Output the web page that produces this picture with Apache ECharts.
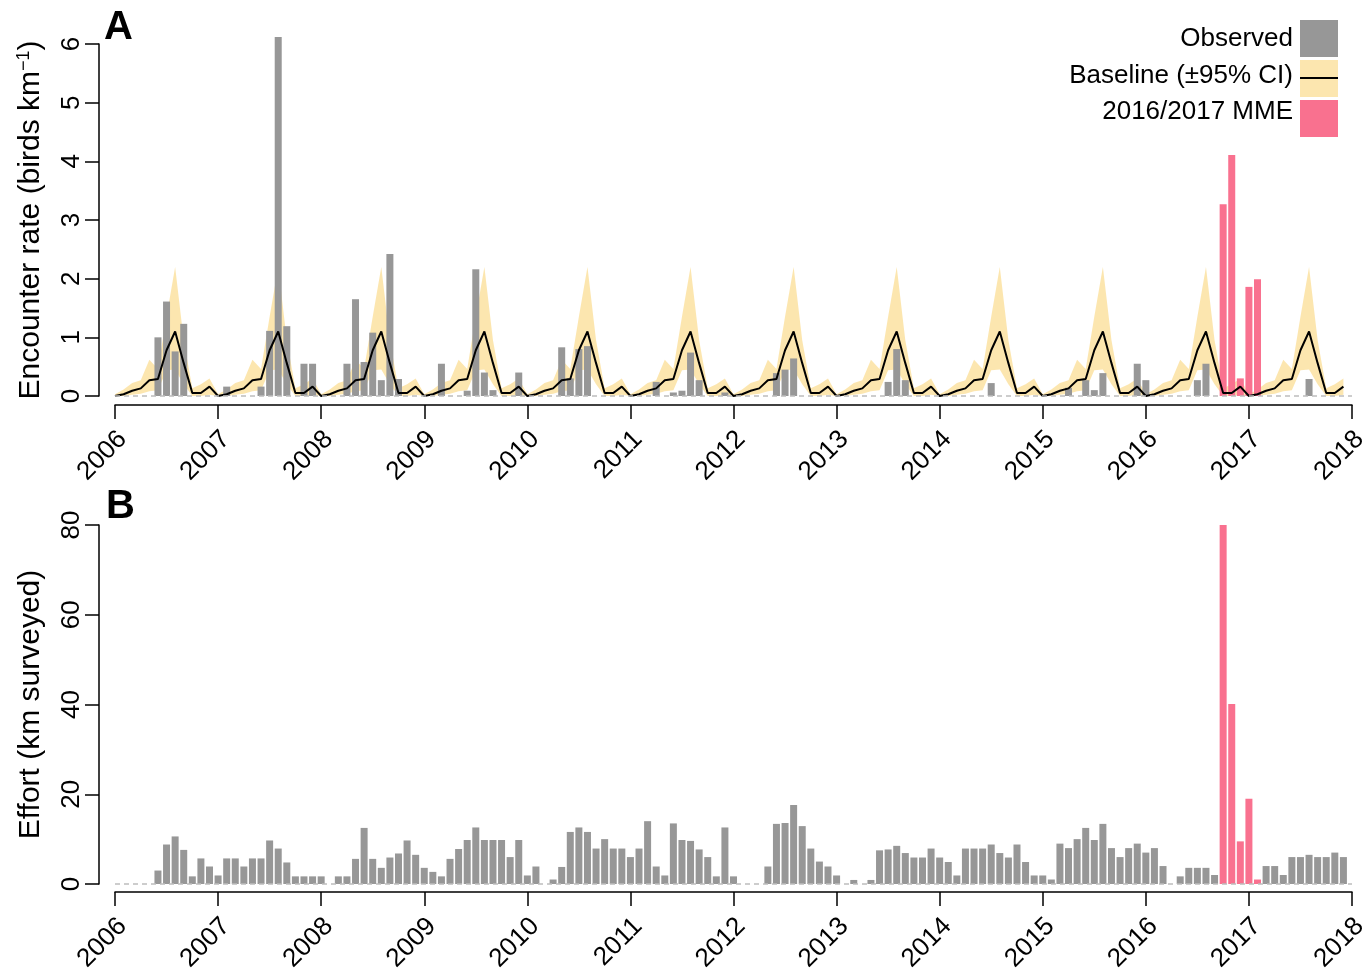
<!DOCTYPE html>
<html><head><meta charset="utf-8">
<script src="https://cdn.jsdelivr.net/npm/echarts@6/dist/echarts.min.js"></script>
<style>html,body{margin:0;padding:0;background:#fff}#chart{width:1372px;height:970px}</style>
</head><body><div id="chart"></div>
<script>
// ---- tick labels (one per January, 2006..2018) ----
const yearLabels = ['2006','2007','2008','2009','2010','2011','2012','2013','2014','2015','2016','2017','2018'];

// ---- months flagged as the 2016/2017 mass-mortality event ----
const mmeMonths = ['2016-10','2016-11','2016-12','2017-01','2017-02'];

// ---- Panel A: observed encounter rate (birds per km), Jan..Dec per year ----
const encounterRate = [
  /*2006*/ 0,0,0,0,0,1.00,1.61,0.76,1.23,0,0,0,
  /*2007*/ 0,0.16,0,0,0,0.16,1.11,6.12,1.19,0,0.55,0.55,
  /*2008*/ 0,0,0,0.55,1.65,0.58,1.08,0.27,2.42,0.29,0,0,
  /*2009*/ 0,0,0.55,0,0,0.09,2.16,0.40,0.10,0,0,0.40,
  /*2010*/ 0,0,0,0,0.83,0.30,0.80,0.85,0,0,0,0,
  /*2011*/ 0,0,0,0.24,0,0.06,0.09,0.74,0.27,0,0,0.06,
  /*2012*/ 0,0,0,0,0,0.39,0.45,0.64,0,0,0,0,
  /*2013*/ 0,0,0,0,0,0,0.24,0.80,0.27,0,0,0,
  /*2014*/ 0,0,0,0,0,0,0.22,0,0,0,0,0,
  /*2015*/ 0,0,0,0.14,0,0.27,0.10,0.39,0,0,0,0.55,
  /*2016*/ 0.27,0,0,0,0,0,0.27,0.55,0,3.27,4.11,0.30,
  /*2017*/ 1.86,1.99,0,0,0,0,0,0.29,0,0,0,0
];

// ---- Panel A: baseline model fit and 95% CI ----
const baselineFit = [
  /*2006*/ 0,0.03,0.09,0.13,0.27,0.29,0.78,1.10,0.56,0.05,0.05,0.16,
  /*2007*/ 0,0.03,0.09,0.13,0.27,0.29,0.78,1.10,0.56,0.05,0.05,0.16,
  /*2008*/ 0,0.03,0.09,0.13,0.27,0.29,0.78,1.10,0.56,0.05,0.05,0.16,
  /*2009*/ 0,0.03,0.09,0.13,0.27,0.29,0.78,1.10,0.56,0.05,0.05,0.16,
  /*2010*/ 0,0.03,0.09,0.13,0.27,0.29,0.78,1.10,0.56,0.05,0.05,0.16,
  /*2011*/ 0,0.03,0.09,0.13,0.27,0.29,0.78,1.10,0.56,0.05,0.05,0.16,
  /*2012*/ 0,0.03,0.09,0.13,0.27,0.29,0.78,1.10,0.56,0.05,0.05,0.16,
  /*2013*/ 0,0.03,0.09,0.13,0.27,0.29,0.78,1.10,0.56,0.05,0.05,0.16,
  /*2014*/ 0,0.03,0.09,0.13,0.27,0.29,0.78,1.10,0.56,0.05,0.05,0.16,
  /*2015*/ 0,0.03,0.09,0.13,0.27,0.29,0.78,1.10,0.56,0.05,0.05,0.16,
  /*2016*/ 0,0.03,0.09,0.13,0.27,0.29,0.78,1.10,0.56,0.05,0.05,0.16,
  /*2017*/ 0,0.03,0.09,0.13,0.27,0.29,0.78,1.10,0.56,0.05,0.05,0.16
];
const ciLower = [
  /*2006*/ 0,0,0.02,0.04,0.08,0.10,0.44,0.45,0.20,0,0,0.02,
  /*2007*/ 0,0,0.02,0.04,0.08,0.10,0.44,0.45,0.20,0,0,0.02,
  /*2008*/ 0,0,0.02,0.04,0.08,0.10,0.44,0.45,0.20,0,0,0.02,
  /*2009*/ 0,0,0.02,0.04,0.08,0.10,0.44,0.45,0.20,0,0,0.02,
  /*2010*/ 0,0,0.02,0.04,0.08,0.10,0.44,0.45,0.20,0,0,0.02,
  /*2011*/ 0,0,0.02,0.04,0.08,0.10,0.44,0.45,0.20,0,0,0.02,
  /*2012*/ 0,0,0.02,0.04,0.08,0.10,0.44,0.45,0.20,0,0,0.02,
  /*2013*/ 0,0,0.02,0.04,0.08,0.10,0.44,0.45,0.20,0,0,0.02,
  /*2014*/ 0,0,0.02,0.04,0.08,0.10,0.44,0.45,0.20,0,0,0.02,
  /*2015*/ 0,0,0.02,0.04,0.08,0.10,0.44,0.45,0.20,0,0,0.02,
  /*2016*/ 0,0,0.02,0.04,0.08,0.10,0.44,0.45,0.20,0,0,0.02,
  /*2017*/ 0,0,0.02,0.04,0.08,0.10,0.44,0.45,0.20,0,0,0.02
];
const ciUpper = [
  /*2006*/ 0.03,0.11,0.22,0.27,0.62,0.46,1.35,2.20,0.95,0.13,0.20,0.30,
  /*2007*/ 0.03,0.11,0.22,0.27,0.62,0.46,1.35,2.20,0.95,0.13,0.20,0.30,
  /*2008*/ 0.03,0.11,0.22,0.27,0.62,0.46,1.35,2.20,0.95,0.13,0.20,0.30,
  /*2009*/ 0.03,0.11,0.22,0.27,0.62,0.46,1.35,2.20,0.95,0.13,0.20,0.30,
  /*2010*/ 0.03,0.11,0.22,0.27,0.62,0.46,1.35,2.20,0.95,0.13,0.20,0.30,
  /*2011*/ 0.03,0.11,0.22,0.27,0.62,0.46,1.35,2.20,0.95,0.13,0.20,0.30,
  /*2012*/ 0.03,0.11,0.22,0.27,0.62,0.46,1.35,2.20,0.95,0.13,0.20,0.30,
  /*2013*/ 0.03,0.11,0.22,0.27,0.62,0.46,1.35,2.20,0.95,0.13,0.20,0.30,
  /*2014*/ 0.03,0.11,0.22,0.27,0.62,0.46,1.35,2.20,0.95,0.13,0.20,0.30,
  /*2015*/ 0.03,0.11,0.22,0.27,0.62,0.46,1.35,2.20,0.95,0.13,0.20,0.30,
  /*2016*/ 0.03,0.11,0.22,0.27,0.62,0.46,1.35,2.20,0.95,0.13,0.20,0.30,
  /*2017*/ 0.03,0.11,0.22,0.27,0.62,0.46,1.35,2.20,0.95,0.13,0.20,0.30
];

// ---- Panel B: survey effort (km surveyed), Jan..Dec per year ----
const effortKm = [
  /*2006*/ 0,0,0,0,0,3.0,8.8,10.6,7.6,1.7,5.7,3.9,
  /*2007*/ 1.9,5.7,5.7,3.9,5.7,5.7,9.7,7.9,4.8,1.7,1.7,1.7,
  /*2008*/ 1.7,0,1.7,1.7,5.6,12.5,5.6,3.6,5.9,6.8,9.7,6.5,
  /*2009*/ 3.6,2.7,1.7,5.6,7.8,9.8,12.6,9.8,9.8,9.8,6.0,9.8,
  /*2010*/ 1.9,3.9,0,1.0,3.8,11.6,12.6,11.6,7.9,10.0,7.9,7.9,
  /*2011*/ 6.0,7.9,14.0,3.9,1.9,13.5,9.8,9.6,7.7,6.0,1.7,12.6,
  /*2012*/ 1.7,0,0,0,3.9,13.4,13.6,17.6,12.9,7.9,5.0,3.9,
  /*2013*/ 1.9,0,0.9,0,0.9,7.5,7.7,8.5,6.9,5.9,5.9,7.9,
  /*2014*/ 5.9,4.9,1.9,7.9,7.9,7.9,8.8,6.9,5.9,8.8,4.9,1.9,
  /*2015*/ 1.9,1.0,9.0,8.0,10.0,12.5,9.8,13.4,8.0,6.0,8.0,9.0,
  /*2016*/ 7.0,8.0,4.0,0,1.7,3.6,3.6,3.6,2.0,80.2,40.1,9.5,
  /*2017*/ 19.0,1.0,4.0,4.0,2.0,6.0,6.0,6.5,6.0,6.0,7.0,6.0
];

// ---------------- build ----------------
const FONT = '"Liberation Sans", Arial, Helvetica, sans-serif';
const GREY = '#979797', PINK = '#F9718F', BAND = 'rgba(250,206,95,0.5)';
const monthKey = i => (2006 + Math.floor(i / 12)) + '-' + String(i % 12 + 1).padStart(2, '0');
const isMME = i => mmeMonths.includes(monthKey(i));
const split = (arr, pink) => arr.map((v, i) => [i, (isMME(i) === pink) ? v : null]);
const pts = arr => arr.map((v, i) => [i, v]);

const zeroLine = {
  silent: true, symbol: 'none', label: {show: false},
  lineStyle: {color: '#bdbdbd', type: [5, 4], width: 1.5},
  data: [{yAxis: 0}]
};

function xAx(gi, off) {
  return {
    type: 'value', gridIndex: gi, min: 0, max: 144, interval: 12, offset: off,
    axisLine: {show: true, onZero: false, lineStyle: {color: '#000', width: 1.5}},
    axisTick: {show: true, length: 14, lineStyle: {color: '#000', width: 1.5}},
    axisLabel: {rotate: 45, margin: 38, fontSize: 26, color: '#000', fontFamily: FONT,
      padding: [0, -11, 0, 0],
      formatter: v => yearLabels[Math.round(v / 12)] || ''},
    splitLine: {show: false}
  };
}
function yAx(gi, max, intv, name) {
  return {
    type: 'value', gridIndex: gi, min: 0, max: max, interval: intv, offset: 16,
    axisLine: {show: true, onZero: false, lineStyle: {color: '#000', width: 1.5}},
    axisTick: {show: true, length: 14, lineStyle: {color: '#000', width: 1.5}},
    axisLabel: {rotate: 90, margin: 14, fontSize: 26, color: '#000', fontFamily: FONT},
    splitLine: {show: false},
    name: name, nameLocation: 'middle', nameRotate: 90, nameGap: 52,
    nameTextStyle: {fontSize: 30, color: '#000', fontFamily: FONT, lineHeight: 32,
      rich: {sup: {fontSize: 18, color: '#000', fontFamily: FONT, verticalAlign: 'top', lineHeight: 32}}}
  };
}

const chart = echarts.init(document.getElementById('chart'), null, {renderer: 'canvas'});
chart.setOption({
  animation: false,
  backgroundColor: '#fff',
  grid: [
    {left: 115, right: 20, top: 44, height: 352, containLabel: false, outerBoundsMode: 'none'},
    {left: 115, right: 20, top: 525, height: 359, containLabel: false, outerBoundsMode: 'none'}
  ],
  xAxis: [xAx(0, 9), xAx(1, 8)],
  yAxis: [yAx(0, 6, 1, 'Encounter rate (birds km{sup|−1})'), yAx(1, 80, 20, 'Effort (km surveyed)')],
  series: [
    {type: 'bar', xAxisIndex: 0, yAxisIndex: 0, data: split(encounterRate, false), barWidth: 7, barGap: '-100%',
      itemStyle: {color: GREY}, clip: false, markLine: zeroLine},
    {type: 'bar', xAxisIndex: 0, yAxisIndex: 0, data: split(encounterRate, true), barWidth: 7, barGap: '-100%',
      itemStyle: {color: PINK}, clip: false},
    {type: 'custom', xAxisIndex: 0, yAxisIndex: 0,
      data: ciUpper.map((u, i) => [i, ciLower[i], u]),
      encode: {x: 0, y: [1, 2]},
      renderItem: function (params, api) {
        if (params.dataIndex !== 0) return null;
        const up = [], lo = [];
        for (let k = 0; k < ciUpper.length; k++) {
          up.push(api.coord([k, ciUpper[k]]));
          lo.push(api.coord([k, ciLower[k]]));
        }
        return {type: 'polygon', shape: {points: up.concat(lo.reverse())}, style: {fill: BAND}};
      }},
    {type: 'line', xAxisIndex: 0, yAxisIndex: 0, data: pts(baselineFit), symbol: 'none',
      lineStyle: {color: '#000', width: 2}},
    {type: 'bar', xAxisIndex: 1, yAxisIndex: 1, data: split(effortKm, false), barWidth: 7, barGap: '-100%',
      itemStyle: {color: GREY}, markLine: zeroLine},
    {type: 'bar', xAxisIndex: 1, yAxisIndex: 1, data: split(effortKm, true), barWidth: 7, barGap: '-100%',
      itemStyle: {color: PINK}}
  ],
  graphic: [
    {type: 'text', x: 104, y: 28, style: {text: 'A', font: 'bold 40px ' + FONT, fill: '#000', verticalAlign: 'middle'}},
    {type: 'text', x: 106, y: 507, style: {text: 'B', font: 'bold 40px ' + FONT, fill: '#000', verticalAlign: 'middle'}},
    {type: 'rect', shape: {x: 1300, y: 20, width: 38, height: 37}, style: {fill: GREY}},
    {type: 'rect', shape: {x: 1300, y: 60, width: 38, height: 37}, style: {fill: '#FCE6AF'}},
    {type: 'line', shape: {x1: 1300, y1: 78, x2: 1338, y2: 78}, style: {stroke: '#000', lineWidth: 2}},
    {type: 'rect', shape: {x: 1300, y: 100, width: 38, height: 37}, style: {fill: PINK}},
    {type: 'text', x: 1293, y: 39, style: {text: 'Observed', font: '26px ' + FONT, fill: '#000', align: 'right', verticalAlign: 'middle'}},
    {type: 'text', x: 1293, y: 76, style: {text: 'Baseline (±95% CI)', font: '26px ' + FONT, fill: '#000', align: 'right', verticalAlign: 'middle'}},
    {type: 'text', x: 1293, y: 112, style: {text: '2016/2017 MME', font: '26px ' + FONT, fill: '#000', align: 'right', verticalAlign: 'middle'}}
  ]
});
</script></body></html>
